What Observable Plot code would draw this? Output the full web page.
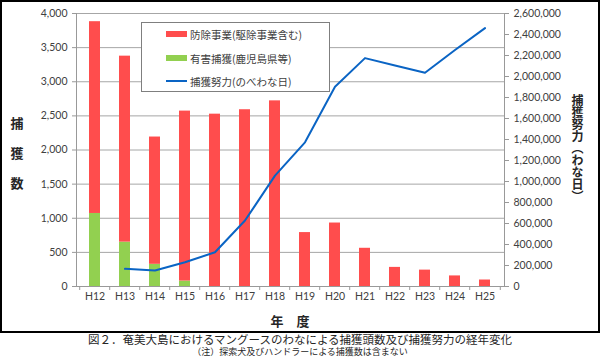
<!DOCTYPE html>
<html>
<head>
<meta charset="utf-8">
<script src="https://cdn.jsdelivr.net/npm/d3@7"></script>
<script src="https://cdn.jsdelivr.net/npm/@observablehq/plot@0.6"></script>
<style>
  body { margin: 0; background: #fff; }
  #wrap { position: relative; width: 600px; height: 357px; font-family: "Noto Sans CJK JP", sans-serif; overflow: hidden; }
  #frame { position: absolute; left: 0; top: 0; width: 600px; height: 333px; box-sizing: border-box; border: 2px solid #000; pointer-events: none; }
  #legend { position: absolute; left: 141px; top: 22px; width: 189px; height: 70px; box-sizing: border-box; border: 1px solid #7f7f7f; background: #fff; }
  .item { position: absolute; left: 24px; height: 14px; display: flex; align-items: center; font-size: 10.5px; color: #404040; white-space: nowrap; }
  .sw { width: 21px; margin-right: 3px; }
  #ylab { position: absolute; left: 9px; top: 108px; width: 16px; font-size: 13px; font-weight: bold; line-height: 30px; color: #262626; text-align: center; }
  #y2lab { position: absolute; left: 569px; top: 94px; height: 115px; writing-mode: vertical-rl; text-orientation: mixed; font-family: "Noto Sans CJK JP", sans-serif; font-size: 12px; line-height: 16px; font-weight: bold; color: #262626; white-space: nowrap; }
  #xlab { position: absolute; left: 240px; width: 100px; top: 311px; text-align: center; font-size: 13px; font-weight: bold; color: #262626; }
  .cap { position: absolute; left: 0; width: 600px; text-align: center; font-family: Lato, "Noto Sans CJK JP", sans-serif; color: #262626; white-space: nowrap; }
  #cap1 { top: 333px; font-size: 11.5px; line-height: 13.8px; }
  #cap2 { top: 347.2px; font-size: 9px; line-height: 10.8px; }
</style>
</head>
<body>
<div id="wrap">
  <div id="chart"></div>
  <div id="legend"></div>
  <div id="ylab"></div>
  <div id="y2lab"></div>
  <div id="xlab"></div>
  <div id="cap1" class="cap"></div>
  <div id="cap2" class="cap"></div>
  <div id="frame"></div>
</div>
<script>
// ---- data ----
const years = ["H12","H13","H14","H15","H16","H17","H18","H19","H20","H21","H22","H23","H24","H25"];
const controlCounts = [2810, 2725, 1865, 2490, 2525, 2590, 2720, 790, 930, 560, 280, 240, 155, 95]; // 防除事業
const harmfulCounts = [1070, 650, 325, 80, 0, 0, 0, 0, 0, 0, 0, 0, 0, 0];                          // 有害捕獲
const trapEffort = [null, 168000, 152000, 231000, 326000, 628000, 1056000, 1373000, 1903000, 2175000, 2105000, 2036000, 2252000, 2461000];
const leftTicks = [0, 500, 1000, 1500, 2000, 2500, 3000, 3500, 4000];
const rightTicks = [0, 200000, 400000, 600000, 800000, 1000000, 1200000, 1400000, 1600000, 1800000, 2000000, 2200000, 2400000, 2600000];
const seriesNames = ["防除事業(駆除事業含む)", "有害捕獲(鹿児島県等)", "捕獲努力(のべわな日)"];
const seriesColors = ["#ff4d4d", "#92d050", "#0a64c4"];
const leftMax = 4000, rightMax = 2600000;
const ratio = rightMax / leftMax;

const texts = {
  ylab: ["捕", "獲", "数"],
  y2lab: "捕獲努力（わな日）",
  xlab: "年　度",
  cap1: "図２．奄美大島におけるマングースのわなによる捕獲頭数及び捕獲努力の経年変化",
  cap2: "（注）探索犬及びハンドラーによる捕獲数は含まない"
};

// ---- tables ----
const barData = [];
years.forEach((y, i) => {
  barData.push({year: y, series: seriesNames[1], value: harmfulCounts[i]});
  barData.push({year: y, series: seriesNames[0], value: controlCounts[i]});
});
const lineData = years.map((y, i) => ({year: y, effort: trapEffort[i]})).filter(d => d.effort != null);

const W = 600, H = 333, mL = 76, mR = 96, mT = 13, mB = 47;
const step = (W - mL - mR) / years.length;

const chart = Plot.plot({
  width: W, height: H,
  marginLeft: mL, marginRight: mR, marginTop: mT, marginBottom: mB,
  style: {fontFamily: "Lato, 'Noto Sans', sans-serif", fontSize: "10px", background: "#fff"},
  x: {type: "band", domain: years, paddingInner: 0.62, paddingOuter: 0.31, label: null, axis: null},
  y: {domain: [0, leftMax], label: null, axis: null},
  color: {domain: seriesNames.slice(0, 2), range: seriesColors.slice(0, 2)},
  marks: [
    Plot.ruleY(leftTicks.filter(d => d > 0), {stroke: "#a6a6a6", strokeWidth: 1}),
    Plot.barY(barData, {x: "year", y: "value", fill: "series"}),
    Plot.line(lineData, {x: "year", y: d => d.effort / ratio, stroke: seriesColors[2], strokeWidth: 2}),
    Plot.ruleY([0], {stroke: "#999"}),
    Plot.frame({anchor: "left", stroke: "#999"}),
    Plot.frame({anchor: "right", stroke: "#999"}),
    Plot.ruleX(years, {x: d => d, y1: 0, y2: 0, insetBottom: -4, dx: -step / 2, stroke: "#999"}),
    Plot.ruleX(years.slice(-1), {x: d => d, y1: 0, y2: 0, insetBottom: -4, dx: step / 2, stroke: "#999"}),
    Plot.axisY({ticks: leftTicks, tickFormat: d3.format(","), tickSize: 4, tickPadding: 5, stroke: "#999", fill: "#404040", fontSize: 10.5, label: null}),
    Plot.axisY({anchor: "right", ticks: rightTicks.map(v => v / ratio), tickFormat: d => d3.format(",")(Math.round(d * ratio)), tickSize: 4, tickPadding: 5, stroke: "#999", fill: "#404040", fontSize: 10.5, label: null}),
    Plot.axisX({tickSize: 0, tickPadding: 6, fill: "#404040", fontSize: 10.5, label: null})
  ]
});
document.getElementById("chart").appendChild(chart);

// ---- legend ----
const legend = document.getElementById("legend");
const rowTops = [4, 28, 51];
seriesNames.forEach((name, i) => {
  const it = document.createElement("div");
  it.className = "item";
  it.style.top = rowTops[i] + "px";
  const sw = document.createElement("span");
  sw.className = "sw";
  sw.style.height = i < 2 ? "6px" : "2px";
  sw.style.background = seriesColors[i];
  it.appendChild(sw);
  const t = document.createElement("span");
  t.textContent = name;
  it.appendChild(t);
  legend.appendChild(it);
});

document.getElementById("ylab").innerHTML = texts.ylab.join("<br>");
document.getElementById("y2lab").textContent = texts.y2lab;
document.getElementById("xlab").textContent = texts.xlab;
document.getElementById("cap1").textContent = texts.cap1;
document.getElementById("cap2").textContent = texts.cap2;
</script>
</body>
</html>
